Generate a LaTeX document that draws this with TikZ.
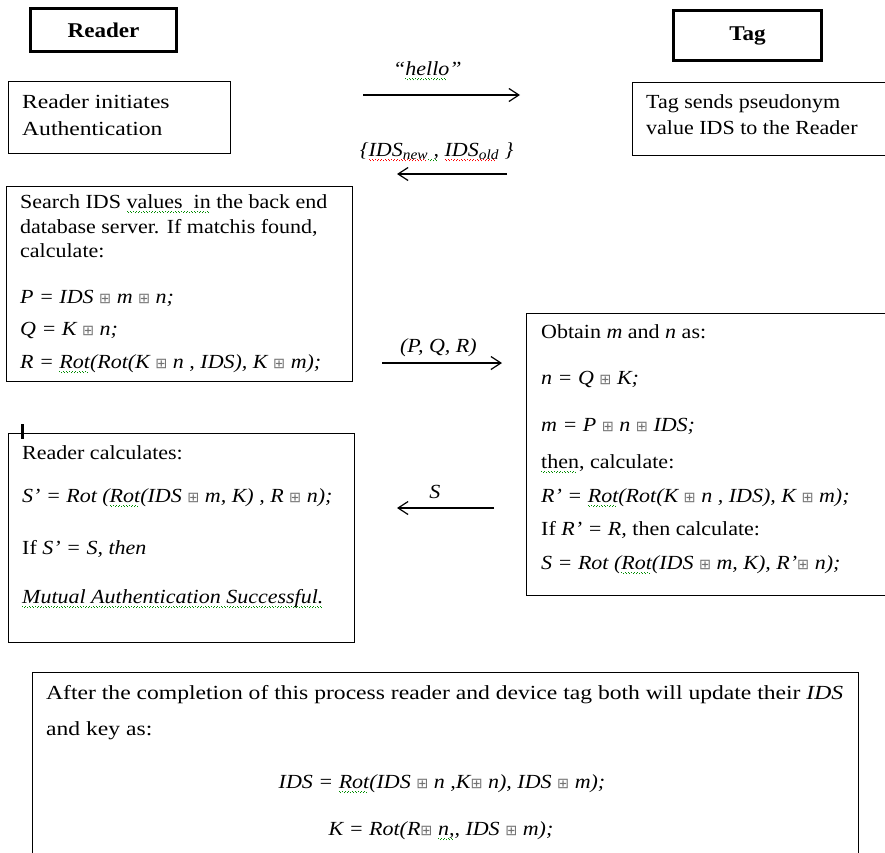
\documentclass[tikz,border=0pt]{standalone}
\usepackage{fontspec}
\setmainfont{Liberation Serif}[FakeStretch=1.1]
\newfontfamily\widefont{Liberation Serif}[FakeStretch=1.18]
\newfontfamily\symfont{DejaVu Sans}[Scale=0.72]
\usetikzlibrary{arrows.meta,positioning}

% squared plus and the spell-check waves
\newcommand\bp{{\symfont\color{black!55}⊞}}
\newsavebox\sqbox
\newcommand\squig[2][green!55!black]{\sbox\sqbox{#2}\rlap{\color{#1}\hbox to \wd\sqbox{\leaders\hbox{\rule[-4pt]{1pt}{1pt}\kern0.6pt\rule[-5.2pt]{1pt}{1pt}\kern0.6pt}\hfill}}\usebox\sqbox}

\begin{document}
\begin{tikzpicture}[x=1pt, y=-1pt,
  font=\fontsize{20}{24}\selectfont,
  box/.style={draw, line width=1.3pt, inner sep=0pt, anchor=north west},
  head/.style={draw, line width=2.8pt, font=\fontsize{21}{24}\selectfont\bfseries},
  txt/.style={inner sep=0pt, anchor=base west, align=left},
  msg/.style={line width=1.2pt, -{Straight Barb[length=10pt, width=13pt]}},
  lbl/.style={inner sep=0pt}]
  \useasboundingbox (0,0) rectangle (885,852);
  \clip (0,0) rectangle (885,852);

  % headers
  \node[head, minimum width=146, minimum height=43] (reader) at (103.5,30) {Reader};
  \node[head, minimum width=148, minimum height=50] (tag) at (747.5,35.5) {Tag};

  % boxes
  \node[box, minimum width=222, minimum height=72] (init) at (7.5,80.5) {};
  \node[box, minimum width=270, minimum height=73] (tagsend) at (631.5,82) {};
  \node[box, minimum width=346, minimum height=195] (search) at (5.5,186) {};
  \node[box, minimum width=374, minimum height=282] (obtain) at (526,312.5) {};
  \node[box, minimum width=346, minimum height=209] (calc) at (7.5,433) {};
  \node[box, minimum width=826, minimum height=210] (update) at (32,672) {};

  % box texts (placed at the baseline of their last line)
  \node[txt, font=\widefont\fontsize{20}{24}\selectfont] (init-t) at (22,135) {Reader initiates\\[3pt]Authentication};
  \node[txt] (tagsend-t) at (646,134) {Tag sends pseudonym\\[2pt]value IDS to the Reader};
  \node[txt] (search-t) at (20,368) {Search IDS \squig{values\ \ in} the back end\\[1pt]
    database server. If matchis found,\\calculate:\\[22pt]
    \textit{P = IDS \bp{} m \bp{} n;}\\[8pt]
    \textit{Q = K \bp{} n;}\\[9pt]
    \textit{R = \squig{Rot}(Rot(K \bp{} n , IDS), K \bp{} m);}};
  \node[txt] (obtain-t) at (541,569) {Obtain \textit{m} and \textit{n} as:\\[22pt]
    \textit{n = Q \bp{} K;}\\[23pt]
    \textit{m = P \bp{} n \bp{} IDS;}\\[13pt]
    \squig{then}, calculate:\\[10pt]
    \textit{R' = \squig{Rot}(Rot(K \bp{} n , IDS), K \bp{} m);}\\[9pt]
    If \textit{R' = R,} then calculate:\\[10pt]
    \textit{S = Rot (\squig{Rot}(IDS \bp{} m, K), R'\bp{} n);}};
  \node[txt] (calc-t) at (22,603) {Reader calculates:\\[19pt]
    \textit{S' = Rot (\squig{Rot}(IDS \bp{} m, K) , R \bp{} n);}\\[28pt]
    If \textit{S' = S, then}\\[25pt]
    \textit{\squig{Mutual Authentication Successful.}}};
  \node[txt, font=\widefont\fontsize{20}{24}\selectfont] (update-t) at (46,735) {After the completion of this process reader and device tag both will update their \textit{IDS}\\[12pt]
    and key as:};
  \node[inner sep=0pt, anchor=base] (ids-new) at (442,788)
    {\textit{IDS = \squig{Rot}(IDS \bp{} n ,K\bp{} n), IDS \bp{} m);}};
  \node[inner sep=0pt, anchor=base] (key-new) at (441,835)
    {\textit{K = Rot(R\bp{} \squig{n,}, IDS \bp{} m);}};

  % cursor mark
  \draw[line width=2.5pt] (22.5,424) -- (22.5,439);

  % messages
  \coordinate (hello-s) at (363,95);
  \coordinate (hello-e) at (520,95);
  \coordinate (ids-s) at (507,174);
  \coordinate (ids-e) at (397,174);
  \coordinate (pqr-s) at (382,363);
  \coordinate (pqr-e) at (502,363);
  \coordinate (s-s) at (494,508);
  \coordinate (s-e) at (397,508);
  \draw[msg] (hello-s) -- node[lbl, pos=0.41, above=14pt] (hello-l) {\textit{“\squig{hello}”}} (hello-e);
  \draw[msg] (ids-s) -- node[lbl, pos=0.64, above=12pt] (ids-l)
    {\textit{\{\squig[red]{IDS\textsubscript{new}}\squig{ ,} \squig[red]{IDS\textsubscript{old}} \}}} (ids-e);
  \draw[msg] (pqr-s) -- node[lbl, pos=0.47, above=6pt] (pqr-l) {\textit{(P, Q, R)}} (pqr-e);
  \draw[msg] (s-s) -- node[lbl, pos=0.61, above=9pt] (s-l) {\textit{S}} (s-e);
\end{tikzpicture}
\end{document}
